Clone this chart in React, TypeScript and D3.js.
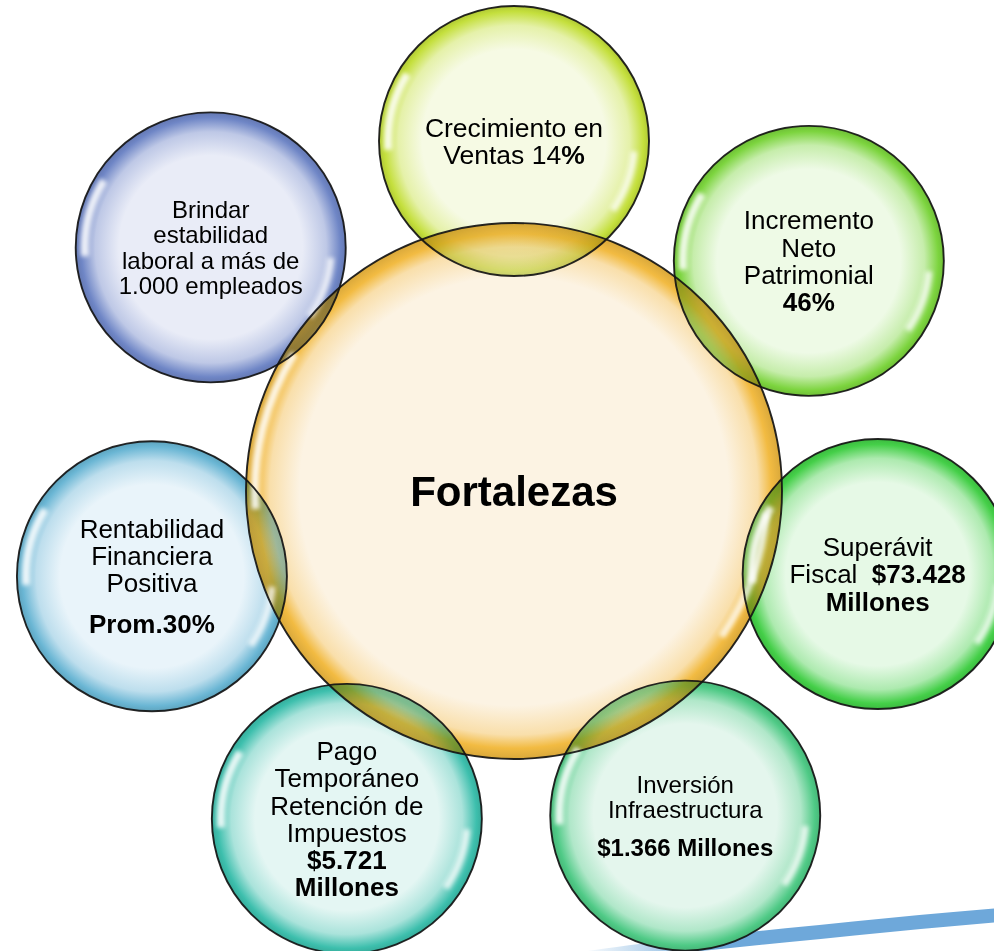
import * as d3 from "d3";

// labels, "**...**" marks bold runs, "" marks a paragraph gap
const centerLabel = "Fortalezas";
const nodeLabels: string[][] = [
  ["Crecimiento en", "Ventas 14**%**"],
  ["Incremento", "Neto", "Patrimonial", "**46%**"],
  ["Superávit", "Fiscal  **$73.428**", "**Millones**"],
  ["Inversión", "Infraestructura", "", "**$1.366 Millones**"],
  ["Pago", "Temporáneo", "Retención de", "Impuestos", "**$5.721**", "**Millones**"],
  ["Rentabilidad", "Financiera", "Positiva", "", "**Prom.30%**"],
  ["Brindar", "estabilidad", "laboral a más de", "1.000 empleados"],
];

const nodeEdge = ["#c4df3c", "#7cd43e", "#44cf48", "#4fca86", "#3dbfad", "#6ab6d4", "#6f86c6"];
const nodeCore = ["#f6fae4", "#eefae6", "#e6f9e6", "#e4f6ed", "#e4f6f3", "#e9f4fa", "#e9ecf7"];
const nodeFont = [26.5, 26, 26, 24, 26, 26, 24];

// layout of the ring: distance from the hub and small angle nudges (degrees)
const orbit = [350, 374, 373, 367, 368, 372, 389];
const nudge = [0, 0.6, 0, -2.1, 1.3, -0.4, 0.2];

const swooshPts: [number, number][] = [
  [560, 962], [640, 951], [720, 942], [820, 932], [920, 922], [1000, 915],
];

const W = 994;
const H = 951;
const cx = 514;
const cy = 491;
const R = 268;
const r = 135;
const FONT = "'Liberation Sans', Arial, Helvetica, sans-serif";

const angle = d3.scaleLinear().domain([0, nodeLabels.length]).range([-90, 270]);
const rad = (deg: number) => (deg * Math.PI) / 180;

function parseRuns(line: string) {
  return line.split("**").map((t, i) => ({ t, bold: i % 2 === 1 })).filter((s) => s.t.length);
}

function Gradient({ id, core, edge, inner }: { id: string; core: string; edge: string; inner: number }) {
  const mid = d3.interpolateRgb(core, edge)(0.35);
  const deep = d3.color(edge)!.darker(0.3).formatHex();
  return (
    <radialGradient id={id} cx="50%" cy="50%" r="50%">
      <stop offset="0%" stopColor={core} />
      <stop offset={`${inner * 100}%`} stopColor={core} />
      <stop offset={`${(inner + (1 - inner) * 0.55) * 100}%`} stopColor={mid} />
      <stop offset="96%" stopColor={edge} />
      <stop offset="100%" stopColor={deep} />
    </radialGradient>
  );
}

function Highlights({ x, y, radius }: { x: number; y: number; radius: number }) {
  const left = d3.arc()({
    innerRadius: radius - 13,
    outerRadius: radius - 5,
    startAngle: rad(266),
    endAngle: rad(302),
  } as any);
  const right = d3.arc()({
    innerRadius: radius - 18,
    outerRadius: radius - 11,
    startAngle: rad(95),
    endAngle: rad(125),
  } as any);
  return (
    <g transform={`translate(${x},${y})`} filter="url(#soft)" fill="#ffffff">
      <path d={left!} opacity={0.85} />
      <path d={right!} opacity={0.75} />
    </g>
  );
}

function Label({ lines, x, y, size }: { lines: string[]; x: number; y: number; size: number }) {
  const lh = size * 1.05;
  const rows: { text: string; dy: number }[] = [];
  let off = 0;
  let first = true;
  lines.forEach((ln) => {
    if (ln === "") {
      off += lh * 0.5;
      return;
    }
    if (!first) off += lh;
    first = false;
    rows.push({ text: ln, dy: off });
  });
  const span = rows.length ? rows[rows.length - 1].dy : 0;
  const base = y + (size * 0.716 - span) / 2;
  return (
    <g>
      {rows.map((row, i) => (
        <text
          key={i}
          x={x}
          y={base + row.dy}
          textAnchor="middle"
          fontFamily={FONT}
          fontSize={size}
          fill="#000"
          style={{ whiteSpace: "pre" }}
        >
          {parseRuns(row.text).map((s, j) => (
            <tspan key={j} fontWeight={s.bold ? "bold" : "normal"}>
              {s.t}
            </tspan>
          ))}
        </text>
      ))}
    </g>
  );
}

export default function App() {
  const nodes = nodeLabels.map((lines, i) => {
    const a = rad(angle(i) + nudge[i]);
    return { lines, x: cx + orbit[i] * Math.cos(a), y: cy + orbit[i] * Math.sin(a), i };
  });

  const swoosh = d3.line().curve(d3.curveCatmullRom)(swooshPts);

  return (
    <svg
      width={W}
      height={H}
      viewBox={`0 0 ${W} ${H}`}
      style={{ position: "absolute", left: 0, top: 0, display: "block", background: "#fff" }}
    >
      <defs>
        <filter id="soft" x="-20%" y="-20%" width="140%" height="140%">
          <feGaussianBlur stdDeviation="2.2" />
        </filter>
        <mask id="outside-hub" maskUnits="userSpaceOnUse" x={0} y={0} width={W} height={H}>
          <rect width={W} height={H} fill="#fff" />
          <circle cx={cx} cy={cy} r={R} fill="#000" />
        </mask>
        <linearGradient id="swoosh" gradientUnits="userSpaceOnUse" x1={580} y1={0} x2={720} y2={0}>
          <stop offset="0%" stopColor="#6ea8da" stopOpacity={0} />
          <stop offset="100%" stopColor="#6ea8da" stopOpacity={1} />
        </linearGradient>
        <Gradient id="g-center" core="#fcf3e3" edge="#f2bb42" inner={0.8} />
        {nodes.map((n) => (
          <Gradient key={n.i} id={`g-${n.i}`} core={nodeCore[n.i]} edge={nodeEdge[n.i]} inner={0.68} />
        ))}
      </defs>

      <path d={swoosh!} fill="none" stroke="url(#swoosh)" strokeWidth={14} />

      <circle cx={cx} cy={cy} r={R} fill="url(#g-center)" />
      {nodes.map((n) => (
        <g key={n.i}>
          <circle
            cx={n.x}
            cy={n.y}
            r={r}
            fill={`url(#g-${n.i})`}
            opacity={0.65}
            style={{ mixBlendMode: "multiply" }}
          />
          <circle cx={n.x} cy={n.y} r={r} fill={`url(#g-${n.i})`} mask="url(#outside-hub)" />
        </g>
      ))}

      <Highlights x={cx} y={cy} radius={R} />
      {nodes.map((n) => (
        <Highlights key={n.i} x={n.x} y={n.y} radius={r} />
      ))}

      <g fill="none" stroke="#141414" strokeWidth={1.9} strokeOpacity={0.92}>
        <circle cx={cx} cy={cy} r={R} />
        {nodes.map((n) => (
          <circle key={n.i} cx={n.x} cy={n.y} r={r} />
        ))}
      </g>

      <text
        x={cx}
        y={cy + 42 * 0.358}
        textAnchor="middle"
        fontFamily={FONT}
        fontWeight="bold"
        fontSize={42}
        fill="#000"
      >
        {centerLabel}
      </text>
      {nodes.map((n) => (
        <Label key={n.i} lines={n.lines} x={n.x} y={n.y} size={nodeFont[n.i]} />
      ))}
    </svg>
  );
}
